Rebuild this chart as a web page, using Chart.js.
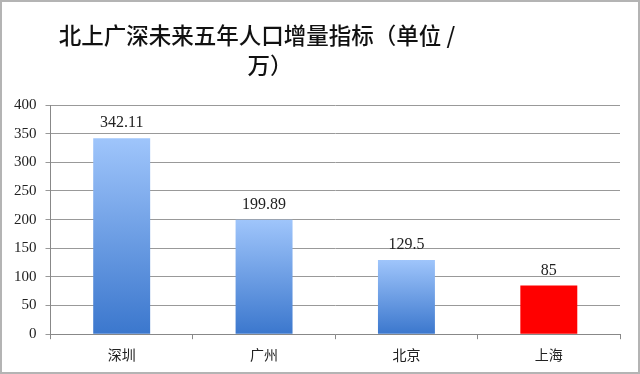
<!DOCTYPE html>
<html>
<head>
<meta charset="utf-8">
<script src="https://cdn.jsdelivr.net/npm/chart.js@4/dist/chart.umd.min.js"></script>
<style>
  body { margin: 0; background: #fff; }
  #caixa { width: 640px; height: 374px; box-sizing: border-box; border: 2px solid #b4b4b4; }
  canvas { display: block; }
</style>
</head>
<body>
<div id="caixa"><canvas id="grafico" width="636" height="370"></canvas></div>
<script>
var categorias = ['深圳', '广州', '北京', '上海'];
var valores = [342.11, 199.89, 129.5, 85];
var rotulos = ['342.11', '199.89', '129.5', '85'];
var titulo = ['北上广深未来五年人口增量指标（单位 /', '万）'];

// gradiente de cada barra, claro em cima e escuro embaixo
function corBarra(context) {
  var i = context.dataIndex;
  if (i == 3) return '#ff0000';
  var chart = context.chart;
  var area = chart.chartArea;
  if (!area) return '#6a9ee6';
  var y = chart.scales.y;
  var g = chart.ctx.createLinearGradient(0, y.getPixelForValue(valores[i]), 0, y.getPixelForValue(0));
  g.addColorStop(0, '#9fc5fb');
  g.addColorStop(1, '#3b77cd');
  return g;
}

var pluginTitulo = {
  id: 'titulo',
  afterDraw: function (chart) {
    var ctx = chart.ctx;
    ctx.save();
    ctx.fillStyle = '#111';
    ctx.font = '500 22.5px "Noto Sans CJK SC"';
    ctx.textAlign = 'center';
    ctx.textBaseline = 'middle';
    ctx.fillText(titulo[0], 255, 33);
    ctx.fillText(titulo[1], 268, 63);
    ctx.restore();
  }
};

var pluginRotulos = {
  id: 'rotulos',
  afterDatasetsDraw: function (chart) {
    var ctx = chart.ctx;
    var meta = chart.getDatasetMeta(0);
    ctx.save();
    ctx.fillStyle = '#222';
    ctx.font = '16px "Liberation Serif"';
    ctx.textAlign = 'center';
    ctx.textBaseline = 'bottom';
    meta.data.forEach(function (barra, i) {
      ctx.fillText(rotulos[i], barra.x, barra.y - 7);
    });
    ctx.restore();
  }
};

var ctx = document.getElementById('grafico').getContext('2d');
var chart = new Chart(ctx, {
  type: 'bar',
  data: {
    labels: categorias,
    datasets: [
      {
        data: valores,
        backgroundColor: corBarra,
        borderWidth: 0,
        barPercentage: 0.4,
        categoryPercentage: 1
      }
    ]
  },
  plugins: [pluginTitulo, pluginRotulos],
  options: {
    responsive: false,
    animation: false,
    devicePixelRatio: 1,
    layout: {
      padding: { top: 103, right: 18, left: 3, bottom: 2 }
    },
    plugins: {
      legend: { display: false },
      title: { display: false },
      tooltip: { enabled: false }
    },
    scales: {
      x: {
        grid: {
          offset: true,
          drawOnChartArea: false,
          drawTicks: true,
          tickLength: 5,
          color: '#888'
        },
        border: { color: '#888' },
        ticks: {
          color: '#222',
          font: { family: '"Noto Sans CJK SC"', size: 14 },
          padding: 7
        }
      },
      y: {
        min: 0,
        max: 400,
        ticks: {
          stepSize: 50,
          color: '#222',
          font: { family: '"Liberation Serif"', size: 15 },
          padding: 9
        },
        grid: {
          color: '#999',
          tickLength: 5
        },
        border: { color: '#888' }
      }
    }
  }
});
</script>
</body>
</html>
